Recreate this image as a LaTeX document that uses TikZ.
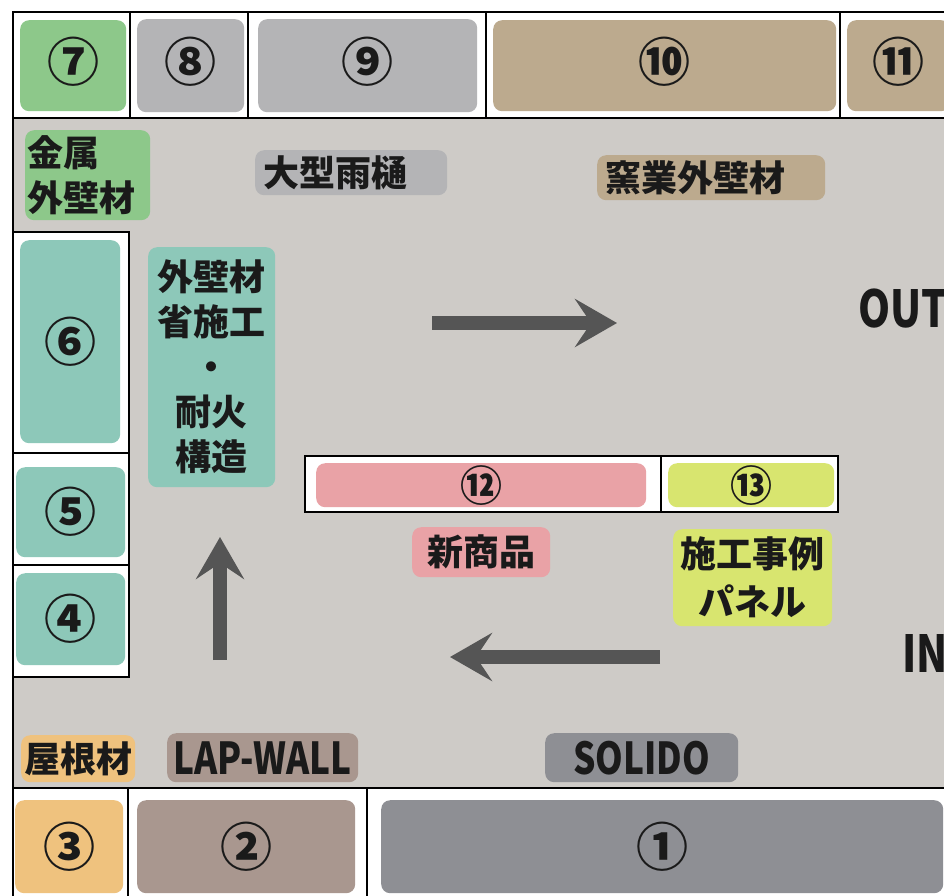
\documentclass[tikz,border=0pt]{standalone}
\usepackage{fontspec}
\setmainfont{Noto Sans CJK JP}
\newfontfamily\condf{Noto Sans CJK JP}[FakeStretch=0.8]
\usetikzlibrary{arrows.meta}
\definecolor{bgg}{HTML}{CECBC7}
\definecolor{cgreen}{HTML}{8DC88A}
\definecolor{cgray}{HTML}{B4B4B6}
\definecolor{ctan}{HTML}{BCAA8E}
\definecolor{cteal}{HTML}{8DC8B9}
\definecolor{cpink}{HTML}{E9A2A6}
\definecolor{cyel}{HTML}{D8E56F}
\definecolor{corange}{HTML}{EFC27E}
\definecolor{cbrown}{HTML}{A9978F}
\definecolor{csolid}{HTML}{8E8F94}
\definecolor{arrowc}{HTML}{555555}
\definecolor{txt}{HTML}{1A1A1A}
\begin{document}
\begin{tikzpicture}[x=1pt,y=-1pt,
  cell/.style={draw=black, line width=1.6pt, fill=white},
  pill/.style={rounded corners=9pt, inner sep=0pt, anchor=north west, text=txt},
  sz/.style 2 args={minimum width=#1, minimum height=#2},
  num/.style={font=\bfseries\fontsize{52}{52}\selectfont},
  upnum/.style={num, text height=36pt, text depth=5pt},
  snum/.style={font=\bfseries\fontsize{42}{42}\selectfont},
  lab/.style={font=\bfseries\fontsize{36}{45}\selectfont, align=center},
  lat/.style={font=\condf\bfseries\fontsize{44}{44}\selectfont},
  big/.style={font=\condf\bfseries\fontsize{51}{51}\selectfont, text=txt},
  flow/.style={draw=arrowc, line width=14pt, -{Stealth[length=42pt,width=48pt,inset=16pt]}}
]
\useasboundingbox (0,0) rectangle (944,895);
\clip (0,0) rectangle (944,895);
\fill[white] (0,0) rectangle (944,895);
\fill[bgg] (13,118) rectangle (950,788);
% top row cells
\draw[cell] (13,12) rectangle (130,118);
\draw[cell] (130,12) rectangle (248,118);
\draw[cell] (248,12) rectangle (486,118);
\draw[cell] (486,12) rectangle (840,118);
\draw[cell] (840,12) rectangle (950,118);
% left column cells
\draw[cell] (13,232) rectangle (129,453);
\draw[cell] (13,453) rectangle (129,565);
\draw[cell] (13,565) rectangle (129,677);
% middle cells
\draw[cell] (305,456) rectangle (661,512);
\draw[cell] (661,456) rectangle (838,512);
% bottom cells
\draw[cell] (13,788) rectangle (128,900);
\draw[cell] (128,788) rectangle (367,900);
\draw[cell] (367,788) rectangle (950,900);
\draw[line width=1.6pt] (13,12) -- (13,900);
% numbered boxes
\node[pill, fill=cgreen, sz={106}{91}, upnum] (n7) at (20,20) {⑦};
\node[pill, fill=cgray, sz={107}{93}, upnum] (n8) at (137,19) {⑧};
\node[pill, fill=cgray, sz={219}{93}, upnum] (n9) at (258,19) {⑨};
\node[pill, fill=ctan, sz={343}{91}, upnum] (n10) at (493,20) {⑩};
\node[pill, fill=ctan, sz={103}{91}, upnum] (n11) at (847,20) {⑪};
\node[pill, fill=cteal, sz={100}{203}, num] (n6) at (20,240) {⑥};
\node[pill, fill=cteal, sz={109}{90}, num] (n5) at (16,467) {⑤};
\node[pill, fill=cteal, sz={109}{92}, num] (n4) at (16,573) {④};
\node[pill, fill=cpink, sz={330}{44}, snum] (n12) at (316,463) {⑫};
\node[pill, fill=cyel, sz={166}{44}, snum] (n13) at (668,463) {⑬};
\node[pill, fill=corange, sz={108}{93}, num] (n3) at (15,800) {③};
\node[pill, fill=cbrown, sz={218}{93}, num] (n2) at (137,800) {②};
\node[pill, fill=csolid, sz={562}{93}, num] (n1) at (381,800) {①};
% labels
\node[pill, fill=cgreen, sz={125}{90}, lab, text width=121pt, align=left, inner xsep=2pt] (kinzoku) at (25,130) {金属\\外壁材};
\node[pill, fill=cgray, sz={192}{45}, lab, text width=176pt, align=left, inner xsep=8pt] (ame) at (255,150) {大型雨樋};
\node[pill, fill=ctan, sz={228}{45}, lab, text width=212pt, align=left, inner xsep=8pt] (yogyo) at (597,155) {窯業外壁材};
\node[pill, fill=cteal, sz={127}{240}, lab] (gaiheki) at (148,247) {外壁材\\省施工\\・\\耐火\\構造};
\node[pill, fill=cpink, sz={138}{50}, lab] (shin) at (412,527) {新商品};
\node[pill, fill=cyel, sz={159}{97}, lab, font=\bfseries\fontsize{36}{48}\selectfont] (sekou) at (673,529) {施工事例\\パネル};
\node[pill, fill=corange, sz={114}{47}, lab] (yane) at (21,735) {屋根材};
\node[pill, fill=cbrown, sz={191}{49}, lat] (lap) at (167,733) {LAP-WALL};
\node[pill, fill=csolid, sz={193}{49}, lat] (sol) at (545,733) {SOLIDO};
\node[big, anchor=base west, inner sep=0pt] (out) at (858,327) {OUT};
\node[big, anchor=base west, inner sep=0pt] (in) at (902,672) {IN};
% arrows
\coordinate (u0) at (220,660); \coordinate (u1) at (220,537);
\coordinate (r0) at (432,323); \coordinate (r1) at (617,323);
\coordinate (l0) at (660,657); \coordinate (l1) at (450,657);
\draw[flow] (u0) -- (u1);
\draw[flow] (r0) -- (r1);
\draw[flow] (l0) -- (l1);
\end{tikzpicture}
\end{document}
